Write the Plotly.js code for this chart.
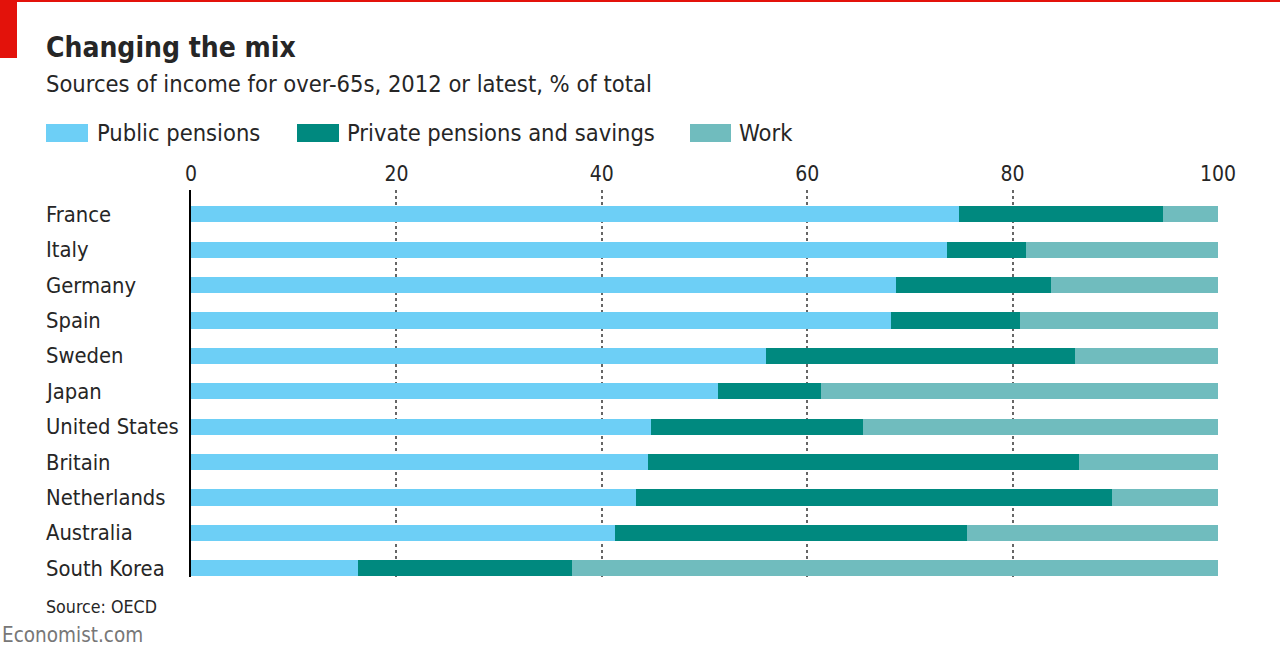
<!DOCTYPE html>
<html>
<head>
<meta charset="utf-8">
<script src="https://cdn.plot.ly/plotly-3.0.1.min.js"></script>
<style>
  html, body { margin: 0; padding: 0; background: #fff; }
  #chart { width: 1280px; height: 657px; }
</style>
</head>
<body>
<div id="chart"></div>
<script>
const countries = ["France", "Italy", "Germany", "Spain", "Sweden", "Japan", "United States", "Britain", "Netherlands", "Australia", "South Korea"];
const publicPensions = [74.8, 73.6, 68.6, 68.2, 56.0, 51.3, 44.8, 44.5, 43.3, 41.3, 16.3];
const privatePensions = [19.8, 7.7, 15.1, 12.5, 30.1, 10.0, 20.6, 42.0, 46.4, 34.3, 20.8];
const work = [5.4, 18.7, 16.3, 19.3, 13.9, 38.7, 34.6, 13.5, 10.3, 24.4, 62.9];
const seriesNames = ["Public pensions", "Private pensions and savings", "Work"];
const tickValues = [0, 20, 40, 60, 80, 100];
const colors = ["#6dcff6", "#00897f", "#70bcbe"];

const FONT = "'Liberation Sans Narrow', 'DejaVu Sans Condensed', 'Open Sans', sans-serif";
const TEXT = "#262626";

const series = [publicPensions, privatePensions, work];
const traces = series.map((vals, i) => ({
  type: "bar",
  orientation: "h",
  name: seriesNames[i],
  y: countries,
  x: vals,
  marker: { color: colors[i], line: { width: 0 } },
  width: 0.46,
  hoverinfo: "name+x",
  showlegend: false
}));

const annotations = [];
// Left-aligned category labels
countries.forEach(c => {
  annotations.push({
    xref: "paper", yref: "y", x: -0.143, y: c, text: c,
    xanchor: "left", yanchor: "middle", showarrow: false,
    font: { family: FONT, size: 21.8, color: TEXT }
  });
});

// Title & subtitle
annotations.push({
  xref: "paper", yref: "paper", x: -0.143, y: 1.369, xanchor: "left", yanchor: "middle",
  text: "<b>Changing the mix</b>", showarrow: false,
  font: { family: FONT, size: 28, color: TEXT }
});
annotations.push({
  xref: "paper", yref: "paper", x: -0.143, y: 1.274, xanchor: "left", yanchor: "middle",
  text: "Sources of income for over-65s, 2012 or latest, % of total", showarrow: false,
  font: { family: FONT, size: 23.5, color: TEXT }
});
// Source
annotations.push({
  xref: "paper", yref: "paper", x: -0.143, y: -0.078, xanchor: "left", yanchor: "middle",
  text: "Source: OECD", showarrow: false,
  font: { family: FONT, size: 17.7, color: TEXT }
});
annotations.push({
  xref: "paper", yref: "paper", x: -0.186, y: -0.15, xanchor: "left", yanchor: "middle",
  text: "Economist.com", showarrow: false,
  font: { family: FONT, size: 20.5, color: "#777" }
});

// Legend (custom)
const plotL = 191, plotR = 1218, plotT = 190, plotB = 577;
const pxX = px => (px - plotL) / (plotR - plotL);
const pxY = py => (plotB - py) / (plotB - plotT);
const legendItems = [
  { x0: 46, x1: 88, tx: 95 },
  { x0: 297, x1: 339, tx: 345 },
  { x0: 690, x1: 731, tx: 737 }
];
const shapes = [];
legendItems.forEach((it, i) => {
  shapes.push({
    type: "rect", xref: "paper", yref: "paper",
    x0: pxX(it.x0), x1: pxX(it.x1), y0: pxY(142), y1: pxY(124),
    fillcolor: colors[i], line: { width: 0 }
  });
  annotations.push({
    xref: "paper", yref: "paper", x: pxX(it.tx), y: pxY(133),
    xanchor: "left", yanchor: "middle", text: seriesNames[i], showarrow: false,
    font: { family: FONT, size: 23.5, color: TEXT }
  });
});
// Red top line and corner block
shapes.push({
  type: "rect", xref: "paper", yref: "paper",
  x0: pxX(0), x1: pxX(1280), y0: pxY(2), y1: pxY(0),
  fillcolor: "#e3120b", line: { width: 0 }
});
shapes.push({
  type: "rect", xref: "paper", yref: "paper",
  x0: pxX(0), x1: pxX(17), y0: pxY(58), y1: pxY(0),
  fillcolor: "#e3120b", line: { width: 0 }
});

const layout = {
  width: 1280, height: 657,
  margin: { l: plotL, r: 1280 - plotR, t: plotT, b: 657 - plotB, pad: 0 },
  paper_bgcolor: "#fff", plot_bgcolor: "#fff",
  barmode: "stack",
  bargap: 0.5,
  showlegend: false,
  font: { family: FONT, color: TEXT },
  xaxis: {
    range: [0, 100], side: "top", tickvals: tickValues, ticktext: tickValues.map(String),
    showgrid: true, gridcolor: "#666", griddash: "dot", gridwidth: 2,
    zeroline: false, showline: false, ticks: "", ticklen: 0, ticklabelstandoff: 4,
    tickfont: { family: FONT, size: 21, color: TEXT }, fixedrange: true
  },
  yaxis: {
    type: "category", categoryorder: "array", categoryarray: countries,
    range: [10.246, -0.686], showticklabels: false, showgrid: false,
    zeroline: false, showline: true, linecolor: "#000", linewidth: 2, ticks: "",
    fixedrange: true
  },
  annotations: annotations,
  shapes: shapes
};

Plotly.newPlot("chart", traces, layout, { displayModeBar: false, staticPlot: true });
</script>
</body>
</html>
